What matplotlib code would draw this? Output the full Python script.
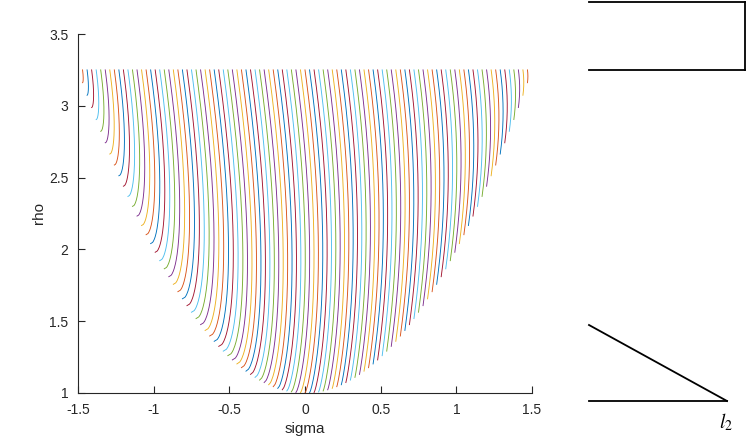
import numpy as np
import matplotlib
matplotlib.use("Agg")
import matplotlib.pyplot as plt
from matplotlib.lines import Line2D

# curve family: each curve starts on rho = 1 + sigma^2 and ends at rho = 3.25
sigma_start = [round(1.5 - 0.03 * k, 2) for k in range(101)]
rho_top = 3.25
lean = 0.13  # slope of a curve near its ends (d sigma / d rho)

x_ticks = [-1.5, -1, -0.5, 0, 0.5, 1, 1.5]
x_labels = ["-1.5", "-1", "-0.5", "0", "0.5", "1", "1.5"]
y_ticks = [1, 1.5, 2, 2.5, 3, 3.5]
y_labels = ["1", "1.5", "2", "2.5", "3", "3.5"]

matlab_colors = ["#0072BD", "#D95319", "#EDB120", "#7E2F8E",
                 "#77AC30", "#4DBEEE", "#A2142F"]

plt.rcParams["font.family"] = ["Liberation Sans", "DejaVu Sans"]
plt.rcParams["mathtext.fontset"] = "stix"

fig = plt.figure(figsize=(7.47, 4.42), dpi=100)
ax = fig.add_axes([78 / 747, 49 / 442, 454 / 747, 359 / 442])

for i, c in enumerate(sigma_start):
    rho_b = 1 + c ** 2
    L = rho_top - rho_b
    s = np.linspace(0, 1, 150)
    rho = rho_b + L * s
    # curves on the left hook at the bottom, those on the right do not
    p = np.clip(0.75 + 0.5 * c, 0.5, 1.0)
    sig = c + lean * L * s ** p * (1 - s)
    ax.plot(sig, rho, color=matlab_colors[i % 7], lw=0.65)

axis_col = "#262626"
ax.set_xlim(-1.5, 1.5)
ax.set_ylim(1, 3.5)
ax.set_xticks(x_ticks)
ax.set_xticklabels(x_labels)
ax.set_yticks(y_ticks)
ax.set_yticklabels(y_labels)
ax.tick_params(direction="in", length=5, width=0.8, colors=axis_col,
               labelsize=10, pad=7)
for side in ["top", "right"]:
    ax.spines[side].set_visible(False)
for side in ["left", "bottom"]:
    ax.spines[side].set_color(axis_col)
    ax.spines[side].set_linewidth(0.8)
ax.set_xlabel("sigma", fontsize=11, color=axis_col, labelpad=4)
ax.set_ylabel("rho", fontsize=11, color=axis_col, labelpad=2)

# pieces of a neighbouring diagram on the right (pixel coords -> figure fraction)
W, H = 747.0, 442.0
def fx(p):
    return p / W
def fy(p):
    return 1 - p / H

for xs, ys in [([589, 745], [2, 2]), ([745, 745], [2, 70]), ([589, 745], [70, 70]),
               ([589, 727], [325, 401]), ([589, 727], [401, 401])]:
    fig.add_artist(Line2D([fx(v) for v in xs], [fy(v) for v in ys],
                          color="black", lw=1.3))
fig.text(fx(719), fy(422), r"$l_2$", fontsize=14, va="center", ha="left")

fig.savefig("out.png", dpi=100)
